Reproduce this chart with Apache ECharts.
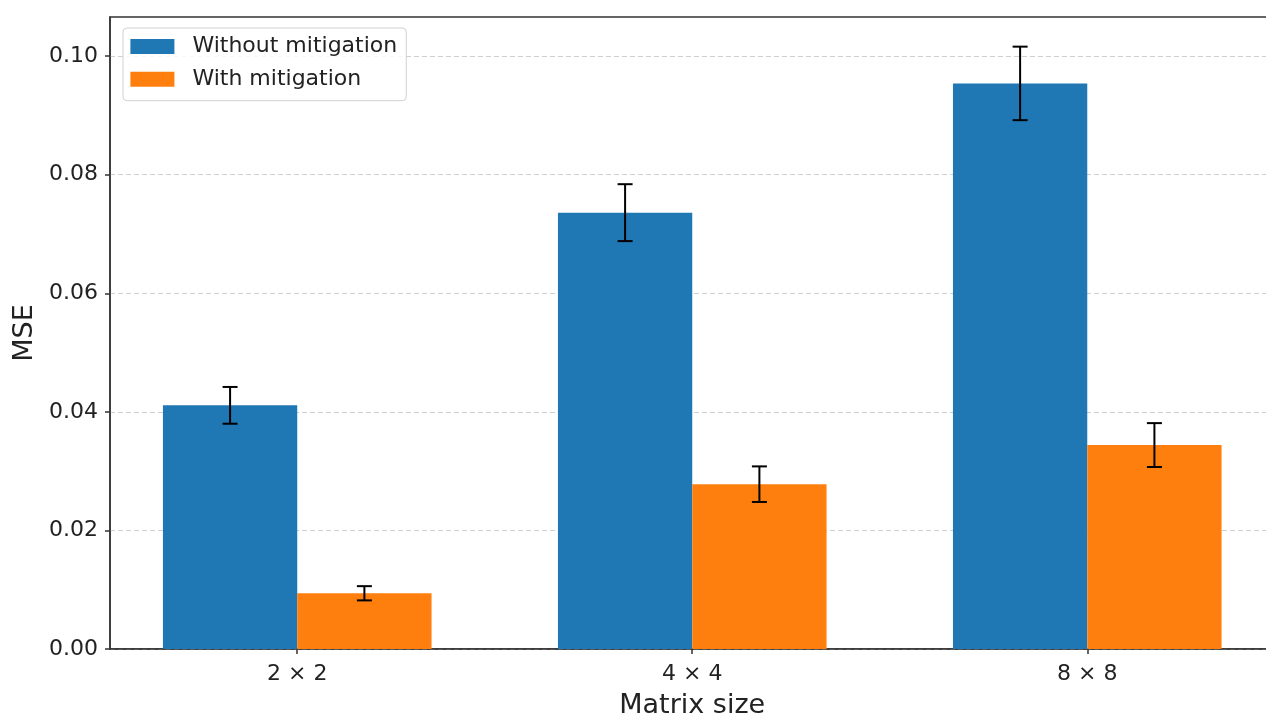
<!DOCTYPE html>
<html>
<head>
<meta charset="utf-8">
<script src="https://cdn.jsdelivr.net/npm/echarts@6/dist/echarts.min.js"></script>
<style>
  html, body { margin: 0; padding: 0; background: #fff; }
  #chart { width: 1266px; height: 716px; }
</style>
</head>
<body>
<div id="chart"></div>
<script>
// matrix sizes on the x axis
const categories = ['2 × 2', '4 × 4', '8 × 8']
const seriesNames = ['Without mitigation', 'With mitigation']

// MSE
const withoutMitigation = [0.0411, 0.0736, 0.0954]
const withMitigation = [0.0094, 0.0278, 0.0344]

// half height of the error bars
const withoutErr = [0.0031, 0.0048, 0.0062]
const withErr = [0.0012, 0.0030, 0.0037]

const yTicks = [0, 0.02, 0.04, 0.06, 0.08, 0.10]

const BAR_W = 0.34
const FONT = 'DejaVu Sans'
const TEXT = '#222'

function makeSeries(name, values, errs, color, side) {
  return {
    name: name,
    type: 'custom',
    itemStyle: { color: color },
    data: values.map((v, i) => [i, v, errs[i]]),
    encode: { x: 0, y: 1 },
    renderItem: function (params, api) {
      const xc = api.value(0) + side * BAR_W / 2
      const val = api.value(1)
      const err = api.value(2)
      const topLeft = api.coord([xc - BAR_W / 2, val])
      const base = api.coord([xc + BAR_W / 2, 0])
      const mid = api.coord([xc, val])
      const hi = api.coord([xc, val + err])
      const lo = api.coord([xc, val - err])
      const cap = 7.5
      const errStyle = { stroke: '#000', lineWidth: 2 }
      return {
        type: 'group',
        children: [
          {
            type: 'rect',
            shape: { x: topLeft[0], y: topLeft[1], width: base[0] - topLeft[0], height: base[1] - topLeft[1] },
            style: { fill: api.visual('color') }
          },
          { type: 'line', z2: 10, shape: { x1: mid[0], y1: hi[1], x2: mid[0], y2: lo[1] }, style: errStyle },
          { type: 'line', z2: 10, shape: { x1: mid[0] - cap, y1: hi[1], x2: mid[0] + cap, y2: hi[1] }, style: errStyle },
          { type: 'line', z2: 10, shape: { x1: mid[0] - cap, y1: lo[1], x2: mid[0] + cap, y2: lo[1] }, style: errStyle }
        ]
      }
    }
  }
}

const chart = echarts.init(document.getElementById('chart'))

const option = {
  animation: false,
  textStyle: { fontFamily: FONT, color: TEXT },
  grid: {
    show: true,
    left: 110,
    top: 17,
    width: 1164.5,
    bottom: 67,
    outerBoundsMode: 'none',
    containLabel: false,
    borderColor: '#333',
    borderWidth: 1.5,
    backgroundColor: 'transparent'
  },
  legend: {
    orient: 'vertical',
    left: 123,
    top: 28,
    selectedMode: false,
    data: seriesNames.map(n => ({ name: n, icon: 'rect' })),
    itemWidth: 44,
    itemHeight: 15,
    itemGap: 8.7,
    padding: [6.5, 9, 9.5, 7.4],
    borderColor: '#d0d0d0',
    borderWidth: 1,
    borderRadius: 4,
    backgroundColor: 'rgba(255,255,255,0.85)',
    textStyle: { fontFamily: FONT, fontSize: 22, color: TEXT, lineHeight: 22, padding: [2, 0, 0, 13] }
  },
  xAxis: {
    type: 'value',
    min: -0.474,
    max: 2.474,
    name: 'Matrix size',
    nameLocation: 'middle',
    nameGap: 43,
    nameTextStyle: { fontFamily: FONT, fontSize: 27, color: TEXT },
    axisLine: { show: true, onZero: false, lineStyle: { color: '#333', width: 1.5 } },
    axisTick: { show: true, length: 5, lineStyle: { color: '#333', width: 1.5 }, customValues: [0, 1, 2] },
    axisLabel: {
      fontFamily: FONT, fontSize: 22, color: TEXT, margin: 14,
      customValues: [0, 1, 2],
      formatter: v => categories[Math.round(v)]
    },
    splitLine: { show: false }
  },
  yAxis: {
    type: 'value',
    min: 0,
    max: 0.1066,
    name: 'MSE',
    nameLocation: 'middle',
    nameGap: 72,
    nameRotate: 90,
    nameTextStyle: { fontFamily: FONT, fontSize: 27, color: TEXT },
    axisLine: { show: true, onZero: false, lineStyle: { color: '#333', width: 1.5 } },
    axisTick: { show: true, length: 5, lineStyle: { color: '#333', width: 1.5 }, customValues: yTicks },
    axisLabel: {
      fontFamily: FONT, fontSize: 22, color: TEXT, margin: 12,
      customValues: yTicks,
      formatter: v => v.toFixed(2)
    },
    splitLine: { show: true, lineStyle: { color: '#cfcfcf', width: 1, type: [5, 3] } }
  },
  series: [
    makeSeries(seriesNames[0], withoutMitigation, withoutErr, '#1f77b4', -1),
    makeSeries(seriesNames[1], withMitigation, withErr, '#ff7f0e', 1)
  ]
}

chart.setOption(option)
</script>
</body>
</html>
